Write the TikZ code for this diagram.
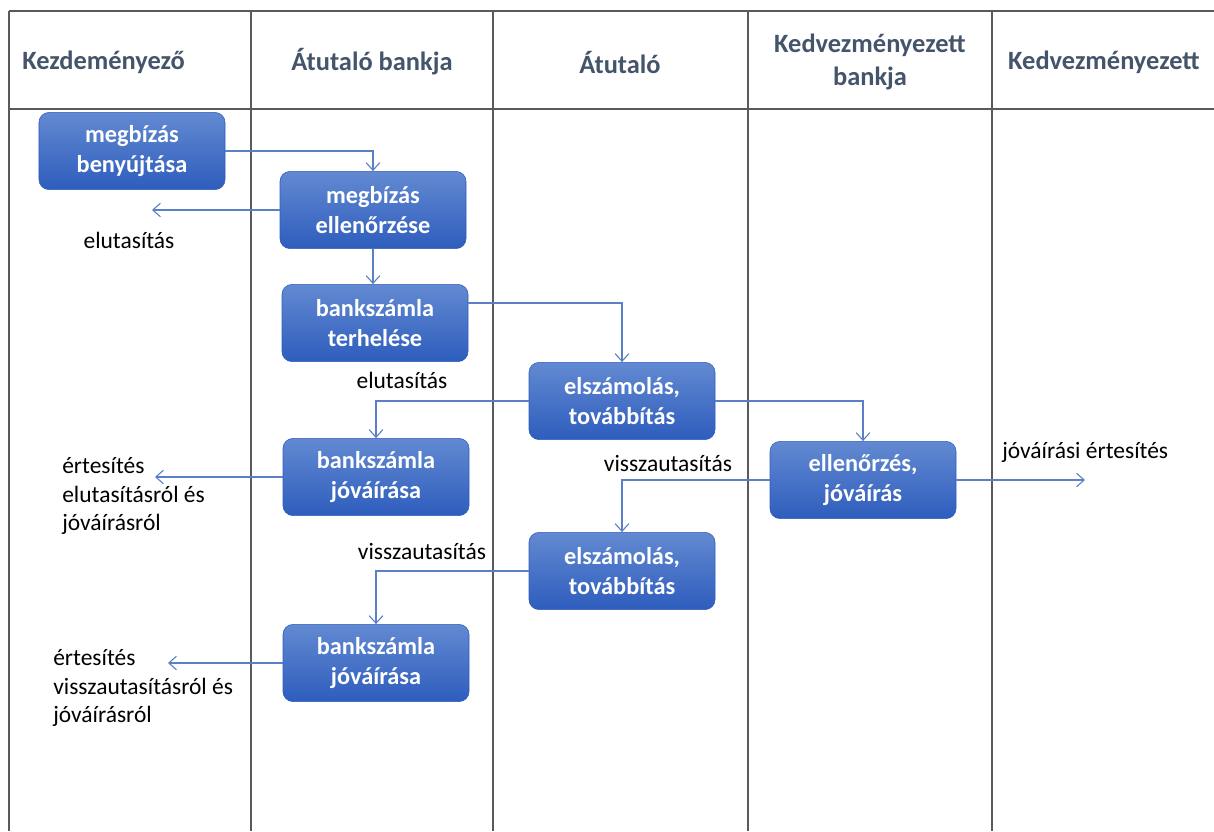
\documentclass[tikz,border=0pt]{standalone}
\usepackage{fontspec}
\setmainfont{Carlito}
\usepackage{tikz}
\usetikzlibrary{arrows.meta}

\definecolor{lanegray}{HTML}{5A5A5A}
\definecolor{headblue}{HTML}{44546A}
\definecolor{flowblue}{HTML}{5B80C8}
\definecolor{tasktop}{HTML}{6289D1}
\definecolor{taskbot}{HTML}{2E5DBD}

\begin{document}
\begin{tikzpicture}[x=0.25mm, y=-0.25mm,
      lane/.style={draw=lanegray, line width=1pt},
      head/.style={
          font=\bfseries\fontsize{18.8}{22.5}\selectfont,
          text=headblue, align=center, inner sep=0pt
        },
      task/.style={
          draw=taskbot, rectangle, rounded corners=0.25cm,
          top color=tasktop, bottom color=taskbot,
          minimum width=4.65cm, minimum height=1.93cm,
          align=center, text=white, line width=0.4pt,
          font=\bfseries\fontsize{17.3}{21.3}\selectfont
        },
      note/.style={
          font=\fontsize{16.7}{20.2}\selectfont,
          align=left, inner sep=0pt
        },
      flow/.style={-{Straight Barb[length=1.9mm,width=3.4mm]},
          draw=flowblue, line width=0.8pt}
    ]

    \useasboundingbox (0,0) rectangle (1214,831);

    % ── Swimlane grid ──
    \draw[lane] (9,11) -- (1214,11);
    \draw[lane] (9,109) -- (1214,109);
    \foreach \xl in {9,251,493,748,992}
      \draw[lane] (\xl,11) -- (\xl,831);

    % ── Lane headers ──
    \node[head, anchor=west] (hinit)  at (22,62)   {Kezdeményező};
    \node[head]              (hbank)  at (372,62)  {Átutaló bankja};
    \node[head]              (hpayer) at (620,62)  {Átutaló};
    \node[head]              (hpbank) at (870,62)  {Kedvezményezett\\[1pt]bankja};
    \node[head]              (hpayee) at (1104,62) {Kedvezményezett};

    % ── Process steps ──
    \node[task] (submit)     at (132,151) {megbízás\\benyújtása};
    \node[task] (check)      at (373,210) {megbízás\\ellenőrzése};
    \node[task] (debit)      at (375,323) {bankszámla\\terhelése};
    \node[task] (clear)      at (622,401) {elszámolás,\\továbbítás};
    \node[task] (credit)     at (376,477) {bankszámla\\jóváírása};
    \node[task] (bcheck)     at (863,480) {ellenőrzés,\\jóváírás};
    \node[task] (clearback)  at (622,571) {elszámolás,\\továbbítás};
    \node[task] (creditback) at (376,663) {bankszámla\\jóváírása};

    % ── Loose arrow ends ──
    \coordinate (reject)     at (152,210);
    \coordinate (notify)     at (155,477);
    \coordinate (notifyback) at (168,663);
    \coordinate (payee)      at (1085,480);

    % ── Flow ──
    \draw[flow] (submit.east) -| (check.north);
    \draw[flow] (check.west) -- (reject);
    \draw[flow] (check.south) -- (check.south |- debit.north);
    \draw[flow] ([yshift=5mm]debit.east) -| (clear.north);
    \draw[flow] (clear.west) -| (credit.north);
    \draw[flow] (clear.east) -| (bcheck.north);
    \draw[flow] (credit.west) -- (notify);
    \draw[flow] (bcheck.west) -| (clearback.north);
    \draw[flow] (bcheck.east) -- (payee);
    \draw[flow] (clearback.west) -| (creditback.north);
    \draw[flow] (creditback.west) -- (notifyback);

    % ── Flow labels ──
    \node[note] (rejlab)   at (129,240) {elutasítás};
    \node[note] (rejlab2)  at (402,380) {elutasítás};
    \node[note] (backlab)  at (668,463) {visszautasítás};
    \node[note] (backlab2) at (422,551) {visszautasítás};
    \node[note, anchor=west] (paylab) at (1002,452) {jóváírási értesítés};
    \node[note, anchor=west] (notlab) at (62,496)
      {értesítés\\elutasításról és\\jóváírásról};
    \node[note, anchor=west] (notlab2) at (53,688)
      {értesítés\\visszautasításról és\\jóváírásról};

  \end{tikzpicture}
\end{document}
